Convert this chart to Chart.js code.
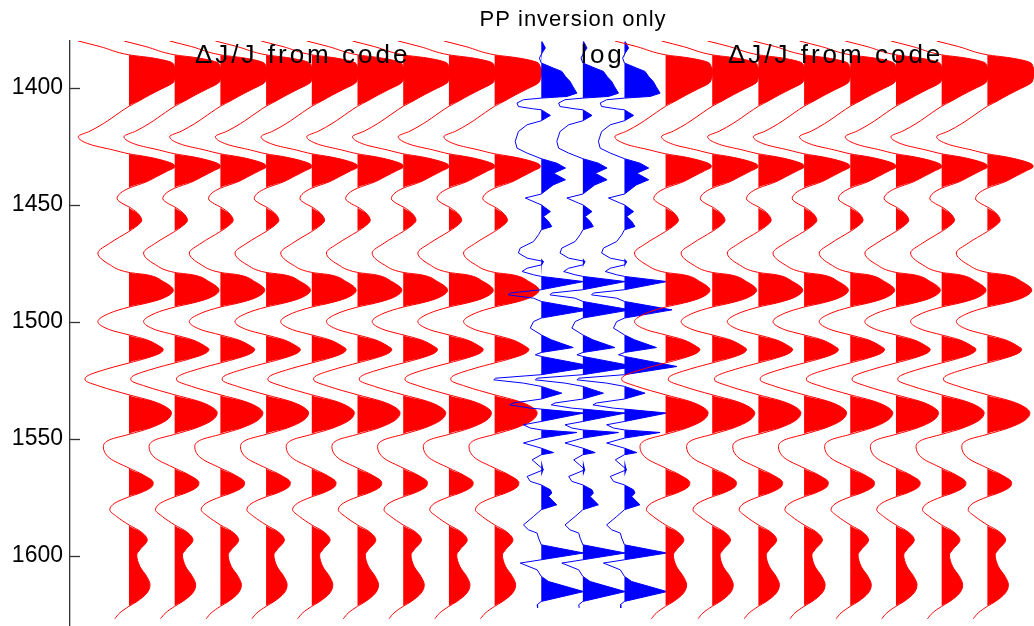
<!DOCTYPE html>
<html>
<head>
<meta charset="utf-8">
<title>PP inversion only</title>
<script src="https://cdn.jsdelivr.net/npm/chart.js@4.4.1/dist/chart.umd.min.js"></script>
<style>
  html, body { margin: 0; padding: 0; background: #fff; overflow: hidden; }
  #wiggle { display: block; width: 1034px; height: 626px; }
</style>
</head>
<body>
<canvas id="wiggle" width="1034" height="626"></canvas>
<script>
// depth axis ticks
const depthTicks = [1400, 1450, 1500, 1550, 1600];

// dJ/J trace from the code (same wavelet repeated on every red trace)
const codeDepth = [1380.0, 1382.4, 1385.9, 1387.2, 1388.9, 1391.0, 1393.6, 1396.2, 1397.9, 1400.4,
  1403.0, 1405.6, 1407.9, 1410.5, 1415.3, 1418.5, 1420.9, 1424.2, 1426.6, 1428.2,
  1429.5, 1430.8, 1432.5, 1433.8, 1435.5, 1437.6, 1440.2, 1442.9, 1444.9, 1447.4,
  1449.6, 1450.9, 1453.4, 1456.6, 1459.4, 1461.4, 1466.4, 1470.6, 1475.6, 1478.9,
  1479.9, 1482.8, 1486.5, 1489.9, 1492.0, 1493.7, 1496.3, 1499.9, 1503.4, 1505.6,
  1507.7, 1510.6, 1511.7, 1513.4, 1515.5, 1517.6, 1519.8, 1523.4, 1524.8, 1527.6,
  1531.2, 1534.0, 1536.5, 1538.9, 1542.1, 1545.4, 1548.1, 1550.4, 1553.3, 1558.3,
  1562.5, 1565.4, 1568.7, 1570.5, 1573.2, 1574.8, 1577.5, 1580.3, 1583.2, 1586.8,
  1589.7, 1593.2, 1597.4, 1599.6, 1604.6, 1608.9, 1612.4, 1616.0, 1619.6, 1621.6,
  1624.4, 1626.9];
const codeAmp = [-1.11, -0.63, 0, 0.5, 0.9, 1.0, 1.03, 1.0, 0.96, 0.72,
  0.46, 0.22, 0, -0.2, -0.56, -0.85, -1.11, -0.85, -0.34, 0,
  0.4, 0.7, 0.96, 1.0, 0.85, 0.64, 0.38, 0, -0.18, -0.26,
  -0.13, 0, 0.18, 0.28, 0.15, 0, -0.42, -0.68, -0.42, 0,
  0.39, 0.75, 0.97, 0.75, 0.39, 0, -0.42, -0.68, -0.42, 0,
  0.39, 0.68, 0.75, 0.68, 0.39, 0, -0.42, -0.93, -0.96, -0.63,
  0, 0.53, 0.82, 0.93, 0.82, 0.46, 0, -0.42, -0.56, -0.42,
  0, 0.31, 0.53, 0.5, 0.24, 0, -0.31, -0.42, -0.27, 0,
  0.26, 0.4, 0.24, 0.17, 0.24, 0.39, 0.46, 0.39, 0.17, 0,
  -0.2, -0.31];

// log trace (blue)
const logDepth = [1380.2, 1383.0, 1385.2, 1387.3, 1389.4, 1391.6, 1393.0, 1395.2, 1397.3, 1399.4,
  1402.3, 1403.7, 1404.4, 1405.1, 1406.5, 1408.0, 1409.0, 1409.4, 1411.8, 1414.1,
  1415.8, 1418.7, 1422.9, 1425.8, 1427.9, 1430.3, 1432.2, 1434.3, 1436.5, 1439.3,
  1441.5, 1445.4, 1447.1, 1449.3, 1450.0, 1452.9, 1455.0, 1457.1, 1459.3, 1460.7,
  1462.8, 1465.7, 1468.5, 1470.6, 1472.8, 1474.2, 1475.6, 1477.1, 1478.5, 1479.9,
  1480.6, 1482.8, 1486.3, 1487.7, 1488.5, 1489.9, 1491.3, 1494.9, 1498.4, 1499.9,
  1502.7, 1505.6, 1507.7, 1511.0, 1513.1, 1514.1, 1514.8, 1519.1, 1522.6, 1524.1,
  1524.8, 1526.2, 1527.6, 1530.5, 1533.0, 1534.7, 1535.5, 1536.9, 1537.3, 1539.0,
  1542.6, 1544.0, 1545.4, 1546.2, 1547.3, 1549.7, 1551.8, 1554.0, 1555.9, 1556.8,
  1559.0, 1563.2, 1566.1, 1568.2, 1569.7, 1571.8, 1573.2, 1574.7, 1578.2, 1580.3,
  1583.2, 1586.8, 1588.9, 1590.3, 1592.4, 1595.3, 1598.8, 1601.7, 1603.1, 1606.0,
  1608.8, 1611.0, 1615.3, 1619.5, 1620.9, 1622.3];
const logAmp = [0.015, 0.09, 0.015, -0.04, 0, 0.27, 0.45, 0.53, 0.63, 0.69,
  0.78, 0.56, 0, -0.39, -0.53, -0.5, -0.17, 0, 0.2, 0,
  -0.31, -0.5, -0.57, -0.53, -0.31, 0, 0.34, 0.53, 0.27, 0.53,
  0.26, 0, -0.35, -0.09, 0, 0.2, 0.05, 0.16, 0.23, 0,
  -0.06, -0.17, -0.46, -0.5, -0.31, 0.05, 0.015, -0.31, -0.42, -0.17,
  0, 0.93, 0, -0.68, -0.72, -0.17, 0, 1.04, 0, -0.17,
  -0.24, 0, 0.22, 0.7, 0, -0.13, 0, 1.15, 0, -1.0,
  -1.04, -0.39, 0, 0.45, 0, -0.61, -0.69, -0.24, 0, 0.93,
  0, -0.39, -0.24, 0, 0.78, 0, -0.39, 0, 0.27, 0,
  -0.2, 0.05, -0.31, -0.24, 0, 0.2, 0.23, 0.16, 0.34, 0,
  -0.17, -0.39, -0.28, -0.09, -0.06, 0, 0.93, 0, -0.46, -0.09,
  0, 0.16, 0.93, 0, -0.09, -0.08];

// trace locations (trace number)
const codeTracesLeft = [1, 2, 3, 4, 5, 6, 7, 8, 9];
const logTraces = [10.02, 10.93, 11.84];
const codeTracesRight = [12.74, 13.76, 14.77, 15.77, 16.78, 17.78, 18.78, 19.78];

const titleText = 'PP inversion only';
const panelLabels = ['\u0394J/J from code', 'log', '\u0394J/J from code'];

const FONT = "'Liberation Sans', Arial, Helvetica, sans-serif";

// one wiggle = filled positive lobes + the full curve on top
function wiggle(pos, depth, amp, color, smooth, rank) {
  const common = {
    pointRadius: 0,
    pointHoverRadius: 0,
    cubicInterpolationMode: smooth ? 'monotone' : 'default',
    tension: 0,
  };
  return [
    {
      ...common,
      data: depth.map((d, i) => ({ x: pos + Math.max(0, amp[i]), y: d })),
      borderWidth: 0,
      backgroundColor: color,
      fill: { value: pos },
      order: 1000 - 2 * rank,
    },
    {
      ...common,
      data: depth.map((d, i) => ({ x: pos + amp[i], y: d })),
      borderColor: color,
      borderWidth: 1,
      fill: false,
      order: 999 - 2 * rank,
    },
  ];
}

const datasets = [];
let rank = 0;
codeTracesLeft.forEach((p) => datasets.push(...wiggle(p, codeDepth, codeAmp, '#ff0000', true, rank++)));
logTraces.forEach((p) => datasets.push(...wiggle(p, logDepth, logAmp, '#0000ff', false, rank++)));
codeTracesRight.forEach((p) => datasets.push(...wiggle(p, codeDepth, codeAmp, '#ff0000', true, rank++)));

// inward tick marks, title and panel labels
const overlay = {
  id: 'overlay',
  afterDraw(chart) {
    const { ctx, chartArea, scales: { x, y } } = chart;
    ctx.save();
    ctx.strokeStyle = '#333';
    ctx.lineWidth = 1.3;
    depthTicks.forEach((v) => {
      const py = Math.round(y.getPixelForValue(v)) + 0.5;
      ctx.beginPath();
      ctx.moveTo(chartArea.left, py);
      ctx.lineTo(chartArea.left + 10, py);
      ctx.stroke();
    });

    ctx.fillStyle = '#000';
    ctx.textAlign = 'center';
    ctx.textBaseline = 'alphabetic';

    // the axes run on past the right edge of the picture; title sits on their middle
    ctx.font = '22px ' + FONT;
    ctx.letterSpacing = '1px';
    ctx.fillText(titleText, x.getPixelForValue(10.715), 26);

    ctx.font = '26px ' + FONT;
    ctx.letterSpacing = '3px';
    const at = [4.8, 11.37, 16.46];
    const base = y.getPixelForValue(1389.2);
    panelLabels.forEach((t, i) => ctx.fillText(t, x.getPixelForValue(at[i]), base));
    ctx.restore();
  },
};

new Chart(document.getElementById('wiggle'), {
  type: 'line',
  data: { datasets },
  plugins: [overlay],
  options: {
    indexAxis: 'y',
    responsive: false,
    animation: false,
    devicePixelRatio: 1,
    events: [],
    layout: { padding: { top: 41, left: 0, right: 0, bottom: 0 } },
    plugins: {
      legend: { display: false },
      tooltip: { enabled: false },
      title: { display: false },
    },
    scales: {
      x: { type: 'linear', display: false, min: -0.29, max: 20.80 },
      y: {
        type: 'linear',
        reverse: true,
        min: 1380,
        max: 1630,
        afterBuildTicks: (s) => { s.ticks = depthTicks.map((v) => ({ value: v })); },
        afterFit: (s) => {
          s.width = 70;
          s.paddingTop = 0;
          s.paddingBottom = 0;
        },
        grid: { display: false, drawTicks: false },
        border: { display: true, color: '#333', width: 1.3 },
        ticks: {
          color: '#000',
          padding: 7,
          font: { family: FONT, size: 23 },
          callback: (v) => String(v),
        },
      },
    },
  },
});
</script>
</body>
</html>
